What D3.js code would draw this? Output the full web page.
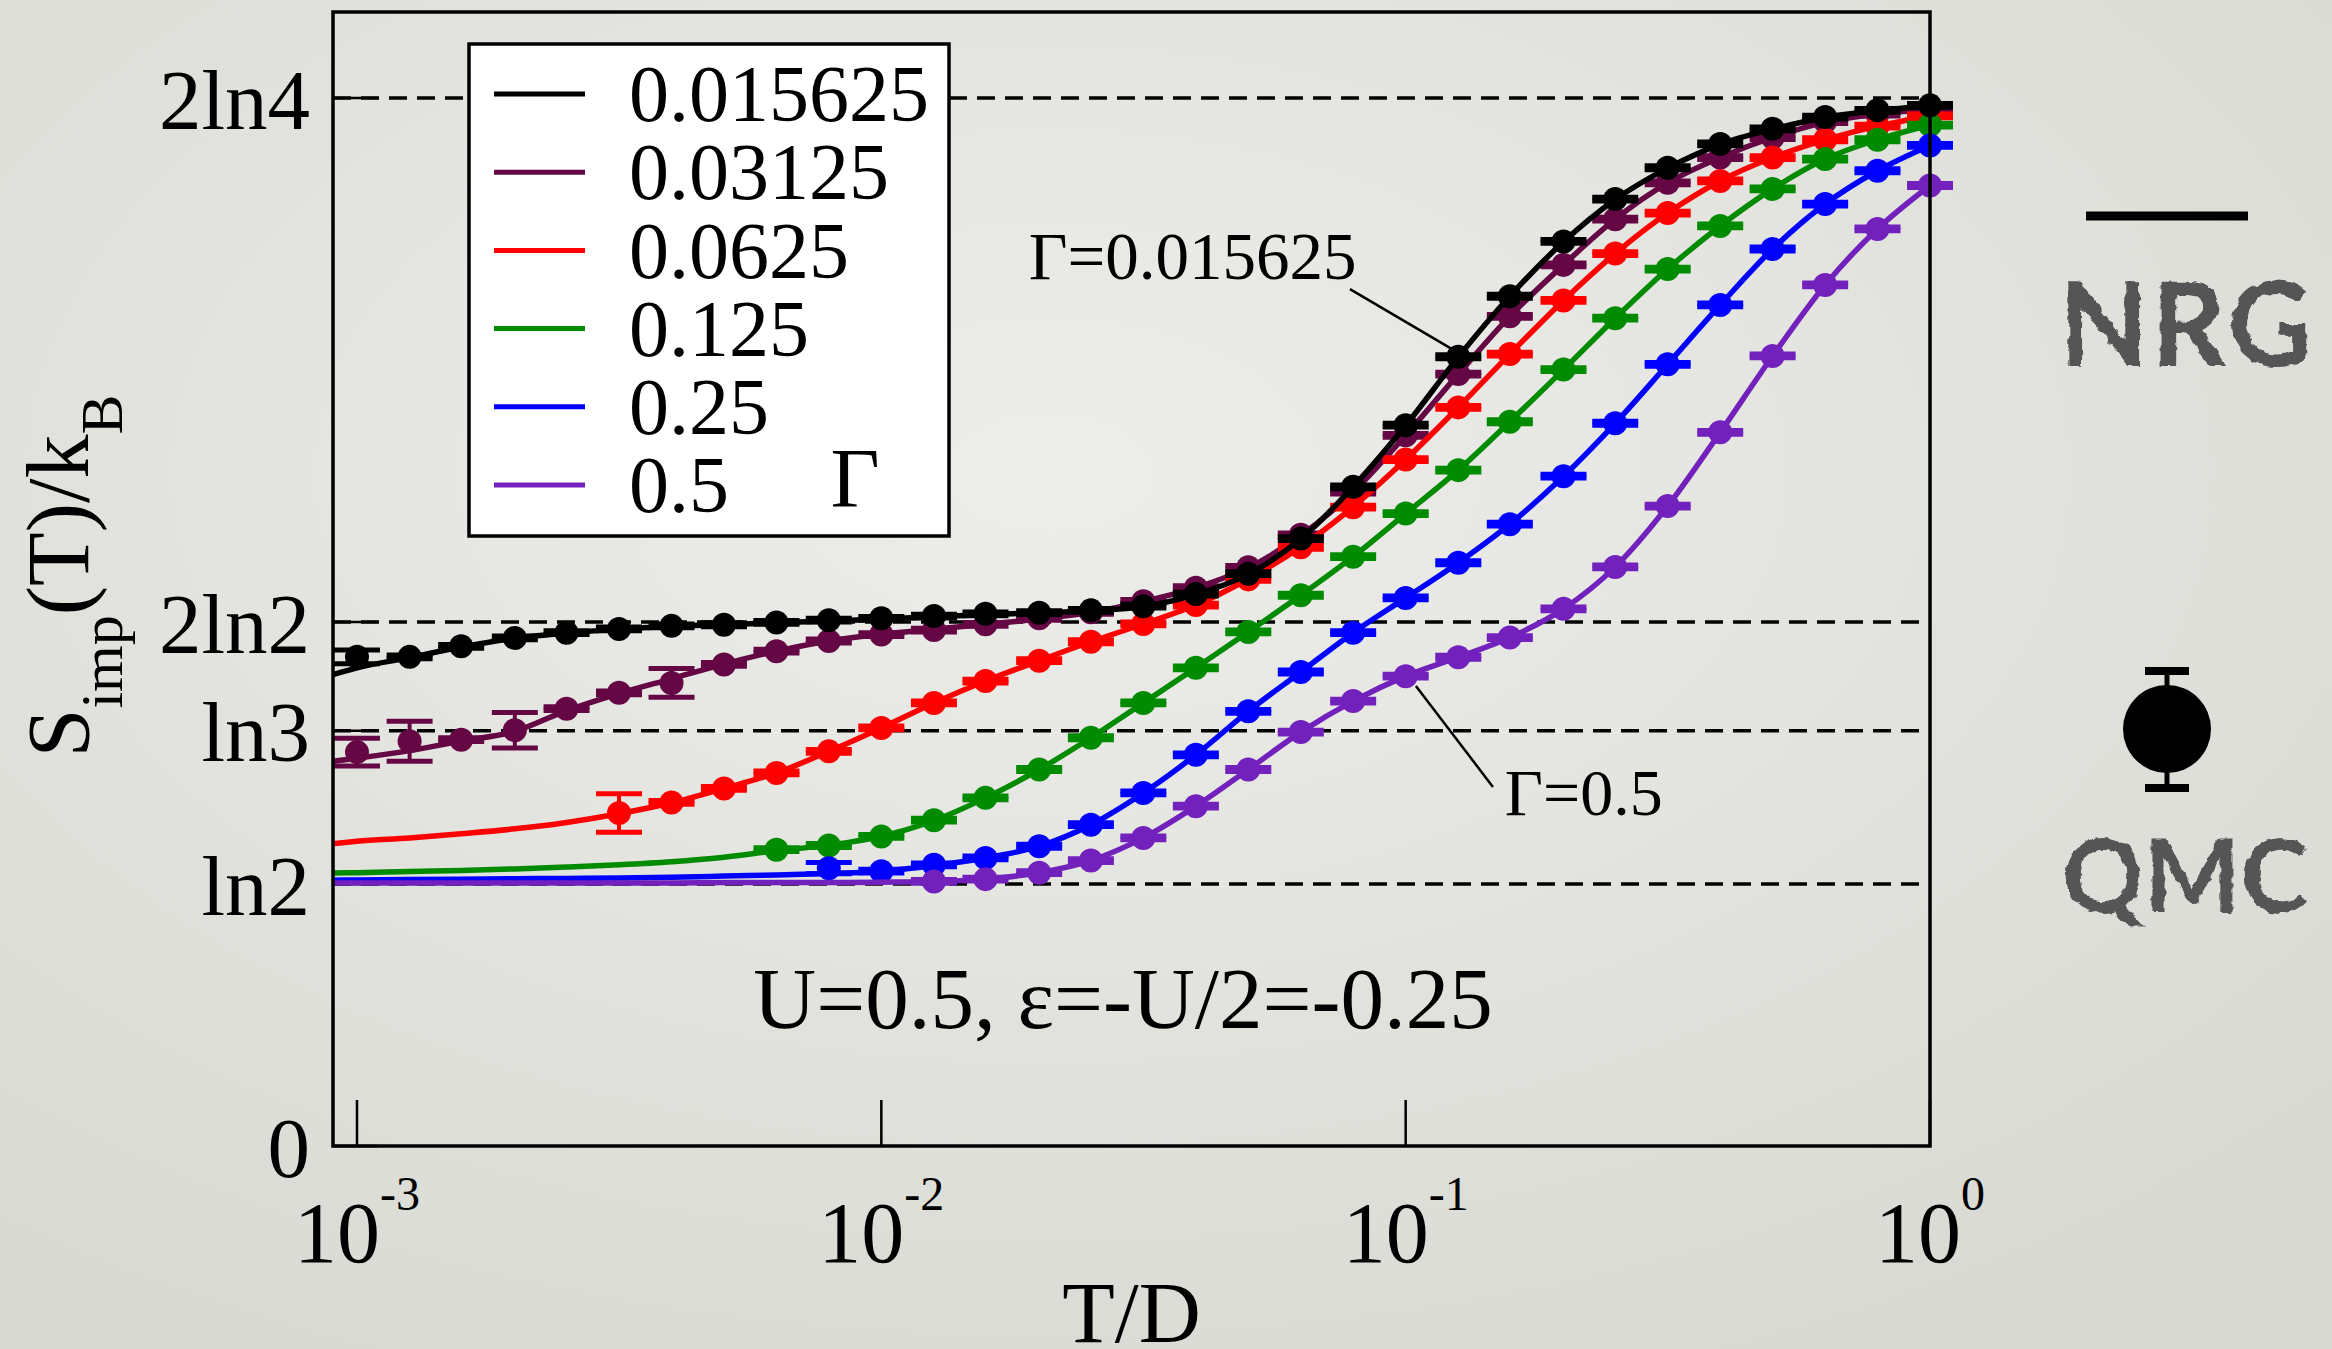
<!DOCTYPE html>
<meta charset="utf-8">
<style>
body { margin: 0; background: #e3e3de; }
svg text { font-family: "Liberation Serif", "Times New Roman", serif; fill: #000; }
.nrg { fill: none; stroke-width: 5.5px; stroke-linejoin: round; }
.ref { stroke: #000; stroke-width: 3.5px; stroke-dasharray: 18 10; }
.tick { stroke: #000; stroke-width: 2.5px; }
.chalk { font-family: "Lato", "DejaVu Sans", sans-serif; font-weight: 700; fill: #555; }
</style>
<body>
<div id="chart"></div>
<script src="https://d3js.org/d3.v7.min.js"></script>
<script>
// T/D of the QMC points (0.1 decade apart)
var tGrid = [0.001, 0.00126, 0.00158, 0.002, 0.00251, 0.00316, 0.00398, 0.00501, 0.00631, 0.00794,
             0.01, 0.0126, 0.0158, 0.02, 0.0251, 0.0316, 0.0398, 0.0501, 0.0631, 0.0794,
             0.1, 0.126, 0.158, 0.2, 0.251, 0.316, 0.398, 0.501, 0.631, 0.794, 1.0];
// left end of the NRG curves
var tEdge = 0.0009;

var gammas = ["0.015625", "0.03125", "0.0625", "0.125", "0.25", "0.5"];
var colors = ["#000000", "#650745", "#ff0000", "#008b00", "#0000ff", "#7221bc"];

// NRG curves: value at tEdge, then one value per tGrid point
var nrg0 = [1.247, 1.265, 1.292, 1.320, 1.343, 1.357, 1.367, 1.375, 1.379, 1.384, 1.389,
            1.394, 1.400, 1.406, 1.410, 1.416, 1.427, 1.459, 1.513, 1.606, 1.744,
            1.906, 2.087, 2.248, 2.392, 2.504, 2.587, 2.650, 2.690, 2.721, 2.739, 2.752];
var nrg1 = [1.018, 1.026, 1.046, 1.071, 1.097, 1.152, 1.197, 1.236, 1.275, 1.309, 1.336,
            1.354, 1.367, 1.380, 1.394, 1.412, 1.440, 1.477, 1.530, 1.615, 1.730,
            1.880, 2.042, 2.195, 2.331, 2.452, 2.548, 2.615, 2.668, 2.708, 2.730, 2.742];
var nrg2 = [0.800, 0.806, 0.815, 0.826, 0.839, 0.856, 0.879, 0.908, 0.946, 0.987, 1.044,
            1.106, 1.172, 1.230, 1.284, 1.334, 1.381, 1.431, 1.500, 1.585, 1.691,
            1.816, 1.954, 2.095, 2.237, 2.361, 2.468, 2.553, 2.615, 2.662, 2.698, 2.725];
var nrg3 = [0.722, 0.723, 0.726, 0.729, 0.733, 0.738, 0.744, 0.752, 0.764, 0.781, 0.796,
            0.819, 0.861, 0.921, 0.996, 1.080, 1.172, 1.265, 1.360, 1.457, 1.559,
            1.673, 1.788, 1.916, 2.054, 2.190, 2.320, 2.434, 2.532, 2.611, 2.662, 2.701];
var nrg4 = [0.703, 0.704, 0.705, 0.706, 0.707, 0.708, 0.709, 0.711, 0.714, 0.717, 0.721,
            0.727, 0.742, 0.762, 0.793, 0.850, 0.934, 1.035, 1.150, 1.254, 1.358,
            1.450, 1.543, 1.645, 1.772, 1.912, 2.068, 2.225, 2.373, 2.492, 2.580, 2.647];
var nrg5 = [0.696, 0.696, 0.696, 0.696, 0.696, 0.696, 0.696, 0.696, 0.697, 0.697, 0.697,
            0.698, 0.700, 0.706, 0.723, 0.755, 0.815, 0.899, 0.996, 1.095, 1.177,
            1.243, 1.293, 1.345, 1.421, 1.532, 1.693, 1.888, 2.090, 2.278, 2.426, 2.541];

// QMC points on tGrid (null = no point)
var qmc0 = [1.294, 1.294, 1.322, 1.344, 1.358, 1.368, 1.376, 1.379, 1.385, 1.391,
            1.396, 1.402, 1.408, 1.411, 1.417, 1.428, 1.460, 1.514, 1.607, 1.744,
            1.907, 2.088, 2.248, 2.393, 2.505, 2.588, 2.651, 2.691, 2.722, 2.740, 2.753];
var qmc1 = [1.042, 1.071, 1.075, 1.100, 1.157, 1.199, 1.225, 1.274, 1.309, 1.336,
            1.353, 1.365, 1.380, 1.396, 1.412, 1.441, 1.477, 1.531, 1.617, 1.730,
            1.880, 2.042, 2.195, 2.331, 2.452, 2.548, 2.615, 2.668, 2.710, 2.730, 2.742];
var qmc2 = [null, null, null, null, null, 0.881, 0.909, 0.946, 0.987, 1.044,
            1.106, 1.172, 1.230, 1.284, 1.334, 1.381, 1.431, 1.499, 1.584, 1.690,
            1.816, 1.954, 2.095, 2.237, 2.361, 2.468, 2.553, 2.615, 2.662, 2.698, 2.725];
var qmc3 = [null, null, null, null, null, null, null, null, 0.784, 0.795,
            0.819, 0.862, 0.921, 0.996, 1.080, 1.172, 1.265, 1.360, 1.457, 1.559,
            1.673, 1.788, 1.916, 2.054, 2.190, 2.320, 2.434, 2.532, 2.611, 2.662, 2.701];
var qmc4 = [null, null, null, null, null, null, null, null, null, 0.735,
            0.727, 0.744, 0.762, 0.793, 0.850, 0.934, 1.035, 1.150, 1.254, 1.358,
            1.450, 1.543, 1.645, 1.772, 1.912, 2.068, 2.225, 2.373, 2.492, 2.580, 2.647];
var qmc5 = [null, null, null, null, null, null, null, null, null, null,
            null, 0.700, 0.706, 0.723, 0.755, 0.815, 0.899, 0.996, 1.095, 1.177,
            1.243, 1.293, 1.345, 1.421, 1.532, 1.693, 1.888, 2.090, 2.278, 2.426, 2.541];

// error bars: default size, and [series, grid index, error] for the larger ones
var errSmall = 0.005;
var errBig = [[0, 0, 0.018], [1, 0, 0.037], [1, 1, 0.053], [1, 3, 0.047], [1, 6, 0.038],
              [2, 5, 0.051], [4, 9, 0.015]];

// y ticks
var yTicks = [0, Math.log(2), Math.log(3), 2 * Math.log(2), 2 * Math.log(4)];
var yTickLabels = ["0", "ln2", "ln3", "2ln2", "2ln4"];
var xTicks = [0.001, 0.01, 0.1, 1];
var xTickExp = ["-3", "-2", "-1", "0"];

var nrgs = [nrg0, nrg1, nrg2, nrg3, nrg4, nrg5];
var qmcs = [qmc0, qmc1, qmc2, qmc3, qmc4, qmc5];

var W = 2332, H = 1349;
var margin = {top: 12, right: 402, bottom: 203, left: 333},
    width = W - margin.left - margin.right,
    height = H - margin.top - margin.bottom;

var x = d3.scaleLog().domain([tEdge, 1]).range([0, width]);
var y = d3.scaleLinear().domain([0, 3]).range([height, 0]);

var root = d3.select("#chart").append("svg")
    .attr("width", W)
    .attr("height", H);

// slide background
var defs = root.append("defs");
var grad = defs.append("radialGradient").attr("id", "bg")
    .attr("cx", "45%").attr("cy", "35%").attr("r", "75%");
grad.append("stop").attr("offset", "0%").attr("stop-color", "#ededea");
grad.append("stop").attr("offset", "100%").attr("stop-color", "#d9d9d3");
root.append("rect").attr("width", W).attr("height", H).attr("fill", "url(#bg)");

// rough chalk look for the hand-written labels
var chalk = defs.append("filter").attr("id", "chalk")
    .attr("x", "-10%").attr("y", "-10%").attr("width", "120%").attr("height", "120%");
chalk.append("feTurbulence").attr("type", "fractalNoise")
    .attr("baseFrequency", 0.09).attr("numOctaves", 2).attr("result", "noise");
chalk.append("feDisplacementMap").attr("in", "SourceGraphic").attr("in2", "noise")
    .attr("scale", 7).attr("xChannelSelector", "R").attr("yChannelSelector", "G");

var svg = root.append("g")
    .attr("transform", "translate(" + margin.left + "," + margin.top + ")");

// dashed reference lines at the ln values
svg.selectAll(".ref")
    .data(yTicks.slice(1))
  .enter().append("line")
    .attr("class", "ref")
    .attr("x1", 0).attr("x2", width)
    .attr("y1", function(d) { return y(d); })
    .attr("y2", function(d) { return y(d); });

// inner ticks
svg.selectAll(".ytick")
    .data(yTicks)
  .enter().append("line")
    .attr("class", "tick")
    .attr("x1", 0).attr("x2", 44)
    .attr("y1", function(d) { return y(d); })
    .attr("y2", function(d) { return y(d); });
svg.selectAll(".xtick")
    .data(xTicks)
  .enter().append("line")
    .attr("class", "tick")
    .attr("x1", function(d) { return x(d); })
    .attr("x2", function(d) { return x(d); })
    .attr("y1", height).attr("y2", height - 46);

// y tick labels
svg.selectAll(".ylab")
    .data(yTicks)
  .enter().append("text")
    .attr("x", -23)
    .attr("y", function(d) { return y(d); })
    .attr("dy", "0.36em")
    .attr("text-anchor", "end")
    .style("font-size", "85px")
    .text(function(d, i) { return yTickLabels[i]; });

// x tick labels 10^n
var xl = svg.selectAll(".xlab")
    .data(xTicks)
  .enter().append("text")
    .attr("x", function(d) { return x(d); })
    .attr("y", height + 116)
    .attr("text-anchor", "middle")
    .style("font-size", "86px");
xl.append("tspan").text("10");
xl.append("tspan")
    .attr("dy", -52)
    .style("font-size", "48px")
    .text(function(d, i) { return xTickExp[i]; });

// axis titles
svg.append("text")
    .attr("x", width / 2)
    .attr("y", height + 196)
    .attr("text-anchor", "middle")
    .style("font-size", "86px")
    .text("T/D");

var yl = svg.append("text")
    .attr("transform", "translate(" + (88 - margin.left) + "," + (height / 2 - 3) + ") rotate(-90)")
    .attr("text-anchor", "middle")
    .style("font-size", "88px");
yl.append("tspan").text("S");
yl.append("tspan").attr("dy", 34).style("font-size", "60px").text("imp");
yl.append("tspan").attr("dy", -34).text("(T)/k");
yl.append("tspan").attr("dy", 34).style("font-size", "60px").text("B");

// curves and QMC points, black drawn last
var line = d3.line()
    .x(function(d) { return x(d[0]); })
    .y(function(d) { return y(d[1]); })
    .curve(d3.curveMonotoneX);

var lineT = [tEdge].concat(tGrid);
var order = [1, 2, 3, 4, 5, 0];

order.forEach(function(s) {
  var pts = lineT.map(function(t, i) { return [t, nrgs[s][i]]; });
  svg.append("path")
      .datum(pts)
      .attr("class", "nrg")
      .style("stroke", colors[s])
      .attr("d", line);

  var q = [];
  qmcs[s].forEach(function(v, i) {
    if (v === null) return;
    var e = errSmall;
    errBig.forEach(function(b) { if (b[0] === s && b[1] === i) e = b[2]; });
    q.push({t: tGrid[i], v: v, e: e});
  });
  var g = svg.append("g").style("stroke", colors[s]).style("fill", colors[s]);
  var pt = g.selectAll("g").data(q).enter().append("g");
  pt.append("line")
      .attr("x1", function(d) { return x(d.t); })
      .attr("x2", function(d) { return x(d.t); })
      .attr("y1", function(d) { return y(d.v - d.e); })
      .attr("y2", function(d) { return y(d.v + d.e); })
      .style("stroke-width", 4);
  [-1, 1].forEach(function(sg) {
    pt.append("line")
        .attr("x1", function(d) { return x(d.t) - 23; })
        .attr("x2", function(d) { return x(d.t) + 23; })
        .attr("y1", function(d) { return y(d.v + sg * d.e); })
        .attr("y2", function(d) { return y(d.v + sg * d.e); })
        .style("stroke-width", 5);
  });
  pt.append("circle")
      .attr("cx", function(d) { return x(d.t); })
      .attr("cy", function(d) { return y(d.v); })
      .attr("r", 12)
      .style("stroke", "none");
});

// frame
svg.append("rect")
    .attr("width", width).attr("height", height)
    .attr("fill", "none")
    .attr("stroke", "#000")
    .attr("stroke-width", 3.5);

// legend
var lg = svg.append("g").attr("transform", "translate(136,32)");
lg.append("rect")
    .attr("width", 480).attr("height", 492)
    .attr("fill", "#fff")
    .attr("stroke", "#000")
    .attr("stroke-width", 3.5);
var row = lg.selectAll(".row").data(gammas).enter().append("g")
    .attr("transform", function(d, i) { return "translate(0," + (50 + i * 78.2) + ")"; });
row.append("line")
    .attr("x1", 25).attr("x2", 116)
    .style("stroke", function(d, i) { return colors[i]; })
    .style("stroke-width", 5);
row.append("text")
    .attr("x", 160).attr("dy", "0.34em")
    .style("font-size", "80px")
    .text(function(d) { return d; });
lg.append("text")
    .attr("x", 386).attr("y", 463)
    .attr("text-anchor", "middle")
    .style("font-size", "85px")
    .text("Γ");

// annotations
svg.append("text")
    .attr("x", x(0.0057)).attr("y", y(0.312))
    .style("font-size", "87px")
    .text("U=0.5, ε=-U/2=-0.25");

svg.append("text")
    .attr("x", x(0.0191)).attr("y", y(2.294))
    .style("font-size", "67px")
    .text("Γ=0.015625");
svg.append("line")
    .attr("x1", x(0.0783)).attr("y1", y(2.267))
    .attr("x2", x(0.1226)).attr("y2", y(2.108))
    .style("stroke", "#000").style("stroke-width", 2.5);

svg.append("text")
    .attr("x", x(0.1546)).attr("y", y(0.876))
    .style("font-size", "66px")
    .text("Γ=0.5");
svg.append("line")
    .attr("x1", x(0.1467)).attr("y1", y(0.950))
    .attr("x2", x(0.1046)).attr("y2", y(1.217))
    .style("stroke", "#000").style("stroke-width", 2.5);

// side key: NRG line, QMC point
var key = root.append("g");
key.append("line")
    .attr("x1", 2086).attr("x2", 2248)
    .attr("y1", 216).attr("y2", 216)
    .style("stroke", "#000").style("stroke-width", 9);
key.append("text")
    .attr("class", "chalk")
    .attr("x", 2187).attr("y", 366)
    .attr("text-anchor", "middle")
    .attr("filter", "url(#chalk)")
    .style("font-size", "116px")
    .style("letter-spacing", "3px")
    .text("NRG");
key.append("line")
    .attr("x1", 2167).attr("x2", 2167)
    .attr("y1", 671).attr("y2", 788)
    .style("stroke", "#000").style("stroke-width", 5);
[671, 788].forEach(function(cy) {
  key.append("line")
      .attr("x1", 2145).attr("x2", 2189)
      .attr("y1", cy).attr("y2", cy)
      .style("stroke", "#000").style("stroke-width", 8);
});
key.append("circle")
    .attr("cx", 2167).attr("cy", 729).attr("r", 44)
    .style("fill", "#000");
key.append("text")
    .attr("class", "chalk")
    .attr("x", 2185).attr("y", 912)
    .attr("text-anchor", "middle")
    .attr("filter", "url(#chalk)")
    .style("font-size", "102px")
    .text("QMC");
</script>
</body>
